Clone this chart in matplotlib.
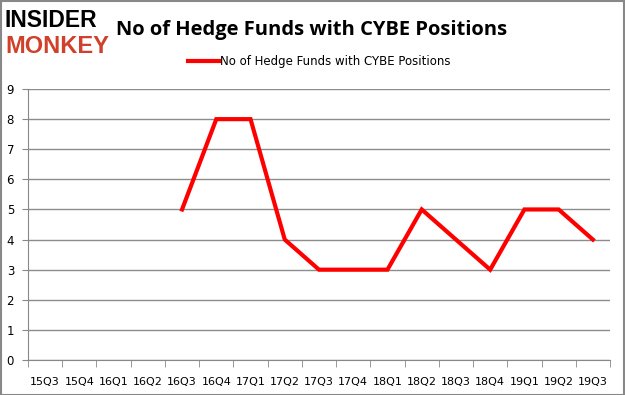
import numpy as np
import matplotlib.pyplot as plt
from matplotlib.patches import Rectangle

# Данные
quarters = ['15Q3', '15Q4', '16Q1', '16Q2', '16Q3', '16Q4', '17Q1', '17Q2', '17Q3',
            '17Q4', '18Q1', '18Q2', '18Q3', '18Q4', '19Q1', '19Q2', '19Q3']
funds = [np.nan, np.nan, np.nan, np.nan, 5, 8, 8, 4, 3, 3, 3, 5, 4, 3, 5, 5, 4]
series_name = 'No of Hedge Funds with CYBE Positions'

fig = plt.figure(figsize=(6.25, 3.95), dpi=100)
ax = fig.add_axes([0.0448, 0.0886, 0.9312, 0.686])

x = np.arange(len(quarters))
ax.plot(x, funds, color='#ff0000', lw=3, label=series_name, solid_joinstyle='miter')

ax.set_xlim(-0.5, len(quarters) - 0.5)
ax.set_ylim(0, 9)
ax.set_yticks(range(0, 10))
ax.set_xticks(x)
ax.set_xticklabels(quarters, fontsize=8, family='DejaVu Sans')
ax.set_xticks(np.arange(-0.5, len(quarters)), minor=True)
ax.tick_params(axis='x', which='major', length=0, pad=12)
ax.tick_params(axis='x', which='minor', length=5, color='#888888', direction='out')
ax.tick_params(axis='y', length=4, color='#888888', labelsize=8.5, pad=6)
ax.grid(axis='y', color='#8c8c8c', lw=1)
ax.set_axisbelow(True)
for s in ['top', 'right']:
    ax.spines[s].set_visible(False)
for s in ['left', 'bottom']:
    ax.spines[s].set_color('#888888')

ax.legend(loc='center', bbox_to_anchor=(0.5, 1.1), frameon=False,
          fontsize=8.5, handlelength=2.6, handletextpad=0.1)

# Заголовок и логотип
fig.text(0.498, 0.925, series_name, ha='center', va='center', fontsize=14.5,
         fontweight='bold', family='Open Sans')
fig.text(0.008, 0.947, 'INSIDER', ha='left', va='center', fontsize=16.5,
         fontweight='bold', family='Liberation Sans', color='black')
fig.text(0.008, 0.883, 'MONKEY', ha='left', va='center', fontsize=17,
         fontweight='bold', family='Liberation Sans', color='#d0402a')

fig.add_artist(Rectangle((0.001, 0.001), 0.997, 0.997, transform=fig.transFigure,
                         fill=False, edgecolor='#888888', lw=1.5))

fig.savefig('out.png', dpi=100)
